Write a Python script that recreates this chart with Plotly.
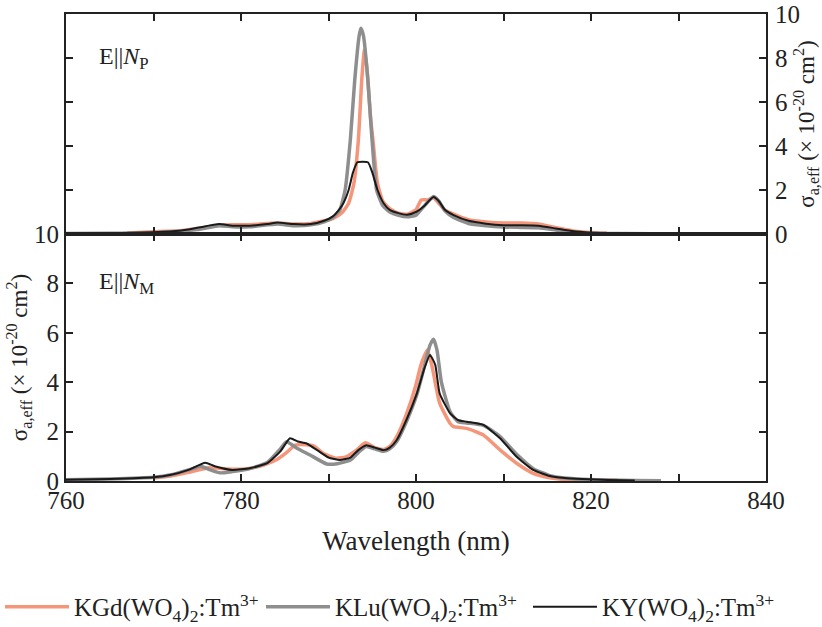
import plotly.graph_objects as go
from plotly.subplots import make_subplots

# ---- Absorption cross sections, E || N_P (top panel) ----
kgd_p_wl = [767, 770, 773, 775, 777.5, 779, 781, 784, 786, 788, 789.5, 790.5, 791.5, 792.3, 792.9,
            793.4, 793.8, 794.1, 794.4, 794.8, 795.1, 795.6, 796.2, 797, 798, 799, 800, 800.6, 801.3,
            802, 802.6, 803.3, 804.3, 806, 808, 810, 812, 814, 816, 818, 820, 821.8]
kgd_p_val = [0.05, 0.1, 0.15, 0.25, 0.4, 0.42, 0.42, 0.5, 0.45, 0.48, 0.6, 0.7, 0.95, 1.4, 2.3,
             4.2, 7.0, 8.36, 7.5, 5.3, 4.2, 2.3, 1.5, 1.15, 0.95, 0.9, 1.1, 1.55, 1.55,
             1.65, 1.4, 1.1, 0.9, 0.65, 0.55, 0.5, 0.5, 0.45, 0.28, 0.14, 0.07, 0.04]

klu_p_wl = [760, 765, 770, 775, 777.5, 779, 781, 784.2, 786, 788, 789.5, 790.5, 791.3, 791.9, 792.5,
            793, 793.5, 793.7, 794.0, 794.5, 794.9, 795.5, 796.2, 797, 798, 799, 800, 801, 802,
            802.6, 803.3, 804.3, 806, 808, 810, 812, 814, 816, 818, 820, 823, 827]
klu_p_val = [0.02, 0.03, 0.06, 0.2, 0.38, 0.33, 0.33, 0.45, 0.38, 0.42, 0.55, 0.75, 1.1, 2.0, 4.3,
             7.0, 9.0, 9.35, 9.0, 7.0, 4.7, 2.0, 1.3, 1.0, 0.85, 0.78, 0.85, 1.3, 1.7,
             1.5, 1.05, 0.75, 0.48, 0.38, 0.32, 0.3, 0.28, 0.18, 0.08, 0.04, 0.02, 0.01]

ky_p_wl = [760, 765, 770, 773, 775, 777.5, 779, 781, 783, 784.2, 786, 788, 789.5, 790.5, 791.1,
           791.7, 792.3, 792.8, 793.3, 794.5, 795, 795.6, 796.3, 797, 798, 799, 800, 801, 802,
           802.6, 803.3, 804.3, 806, 808, 810, 812, 814, 816, 818, 820, 822, 825, 827]
ky_p_val = [0.02, 0.03, 0.08, 0.15, 0.28, 0.45, 0.38, 0.38, 0.45, 0.52, 0.45, 0.45, 0.6, 0.8, 1.05,
            1.4, 2.0, 2.8, 3.26, 3.26, 2.8, 2.0, 1.4, 1.1, 0.95, 0.88, 1.0, 1.3, 1.68,
            1.5, 1.1, 0.86, 0.6, 0.47, 0.4, 0.4, 0.38, 0.25, 0.12, 0.06, 0.03, 0.01, 0.0]

# ---- Absorption cross sections, E || N_M (bottom panel) ----
kgd_m_wl = [770, 772, 774, 776.5, 778, 780, 782, 784, 785.2, 786.2, 787.5, 788.3, 789.5, 790.9, 792,
            793.2, 794.2, 795.3, 796.3, 797, 797.8, 798.9, 800, 800.5, 801, 801.3, 801.8, 802.7,
            803.9, 804.3, 805.8, 807.7, 809.6, 811.5, 813.4, 815.3, 817, 820, 823]
kgd_m_val = [0.12, 0.2, 0.35, 0.55, 0.5, 0.48, 0.58, 0.85, 1.15, 1.45, 1.47, 1.42, 1.1, 0.92, 0.98,
             1.25, 1.55, 1.35, 1.28, 1.4, 1.8, 2.7, 3.9, 4.63, 5.1, 5.3, 4.7, 3.15,
             2.33, 2.2, 2.13, 1.86, 1.26, 0.72, 0.31, 0.13, 0.06, 0.03, 0.03]

klu_m_wl = [760, 765, 770, 772, 774, 775.4, 776.5, 777.6, 779, 781, 783, 784.5, 785.2, 786.3, 787.9,
            789.8, 791, 792.5, 793.4, 794.3, 795.3, 796.3, 797, 797.8, 798.9, 800.1, 801, 801.6,
            802, 802.4, 802.9, 803.9, 804.8, 805.8, 807.7, 809.6, 811.5, 813.4, 815.3, 817, 819,
            822, 825, 828]
klu_m_val = [0.05, 0.08, 0.15, 0.25, 0.45, 0.6, 0.45, 0.33, 0.38, 0.5, 0.75, 1.3, 1.59, 1.35, 1.05,
             0.69, 0.7, 0.85, 1.15, 1.4, 1.3, 1.2, 1.3, 1.6, 2.4, 3.5, 4.7, 5.5,
             5.74, 5.3, 4.0, 2.8, 2.4, 2.35, 2.25, 1.8, 1.08, 0.5, 0.22, 0.12, 0.07,
             0.04, 0.02, 0.01]

ky_m_wl = [760, 765, 770, 772, 774, 775.9, 777, 779, 781, 783, 784.5, 785.6, 786.5, 787.5, 788.7,
           790, 791.3, 792.5, 793.4, 794.3, 795.3, 796.3, 797, 797.8, 798.9, 800.1, 801, 801.6,
           802.2, 802.7, 803.9, 804.8, 805.8, 807.7, 809.6, 811.5, 813.4, 815.3, 817, 819, 822, 825]
ky_m_val = [0.05, 0.08, 0.15, 0.25, 0.45, 0.74, 0.6, 0.45, 0.52, 0.72, 1.2, 1.73, 1.6, 1.52, 1.25,
            0.95, 0.85, 0.95, 1.25, 1.45, 1.35, 1.25, 1.35, 1.66, 2.47, 3.55, 4.6, 5.1,
            4.7, 3.55, 2.74, 2.47, 2.4, 2.27, 1.73, 0.98, 0.45, 0.2, 0.12, 0.08, 0.04, 0.02]

names = ["KGd(WO<sub>4</sub>)<sub>2</sub>:Tm<sup>3+</sup>",
         "KLu(WO<sub>4</sub>)<sub>2</sub>:Tm<sup>3+</sup>",
         "KY(WO<sub>4</sub>)<sub>2</sub>:Tm<sup>3+</sup>"]
colors = ["#F5957A", "#8E8E8E", "#1A1A1A"]
widths = [3.5, 3.5, 2]
legend_ids = ["legend", "legend2", "legend3"]
legend_x = [-0.012, 0.3175, 0.6423]

x_ticks = [760, 770, 780, 790, 800, 810, 820, 830, 840]
x_ticktext = ["760", "", "780", "", "800", "", "820", "", "840"]
y_ticks = [0, 2, 4, 6, 8, 10]

FONT = '"Liberation Serif", "Times New Roman", Times, serif'
AXC = "#222222"
TXT = "#222222"

fig = make_subplots(rows=2, cols=1, shared_xaxes=True, vertical_spacing=0,
                    row_heights=[0.4711, 0.5289])

top = [(kgd_p_wl, kgd_p_val), (klu_p_wl, klu_p_val), (ky_p_wl, ky_p_val)]
bot = [(kgd_m_wl, kgd_m_val), (klu_m_wl, klu_m_val), (ky_m_wl, ky_m_val)]

for i in range(3):
    fig.add_trace(go.Scatter(x=top[i][0], y=top[i][1], mode="lines", name=names[i],
                             line=dict(color=colors[i], width=widths[i], shape="spline",
                                       smoothing=0.5),
                             showlegend=False), row=1, col=1)
for i in range(3):
    fig.add_trace(go.Scatter(x=bot[i][0], y=bot[i][1], mode="lines", name=names[i],
                             line=dict(color=colors[i], width=widths[i], shape="spline",
                                       smoothing=0.5),
                             showlegend=True, legend=legend_ids[i]), row=2, col=1)

xcommon = dict(range=[760, 840], tickvals=x_ticks, ticktext=x_ticktext, ticks="inside",
               ticklen=7, tickwidth=2, tickcolor=AXC, showline=True, linewidth=2,
               linecolor=AXC, mirror="allticks", showgrid=False, zeroline=False,
               automargin=False, tickfont=dict(family=FONT, size=25, color=TXT))
fig.update_xaxes(**xcommon)
fig.update_xaxes(title=dict(text="Wavelength (nm)", font=dict(family=FONT, size=27, color=TXT),
                            standoff=18), ticklabelstandoff=-4, row=2, col=1)

ycommon = dict(range=[0, 10], tickvals=y_ticks, ticks="inside", ticklen=7, tickwidth=2,
               tickcolor=AXC, showline=True, linewidth=2, linecolor=AXC, mirror="allticks",
               showgrid=False, zeroline=False, automargin=False,
               tickfont=dict(family=FONT, size=25, color=TXT))
ytitle = "σ<sub>a,eff</sub> (× 10<sup>-20</sup> cm<sup>2</sup>)"
fig.update_yaxes(**ycommon)
fig.update_yaxes(side="right", ticklabelstandoff=2,
                 title=dict(text=ytitle, font=dict(family=FONT, size=23, color=TXT),
                            standoff=16), row=1, col=1)
fig.update_yaxes(side="left",
                 title=dict(text=ytitle, font=dict(family=FONT, size=23, color=TXT),
                            standoff=0), row=2, col=1)

fig.add_annotation(x=763.5, y=8, xref="x", yref="y", xanchor="left", yanchor="middle",
                   text="E||<i>N</i><sub>P</sub>", showarrow=False,
                   font=dict(family=FONT, size=24, color=TXT))
fig.add_annotation(x=763.5, y=8, xref="x2", yref="y2", xanchor="left", yanchor="middle",
                   text="E||<i>N</i><sub>M</sub>", showarrow=False,
                   font=dict(family=FONT, size=24, color=TXT))

legend_style = dict(orientation="h", xref="container", yref="container", xanchor="left",
                    y=0.032, yanchor="middle", itemwidth=64, bgcolor="rgba(0,0,0,0)",
                    font=dict(family=FONT, size=25, color=TXT))

fig.update_layout(
    width=822, height=627,
    margin=dict(l=66, r=56, t=14, b=146, autoexpand=False),
    plot_bgcolor="white", paper_bgcolor="white",
    legend=dict(x=legend_x[0], **legend_style),
    legend2=dict(x=legend_x[1], **legend_style),
    legend3=dict(x=legend_x[2], **legend_style),
)

fig.write_html("out.html", config={"displayModeBar": False})
